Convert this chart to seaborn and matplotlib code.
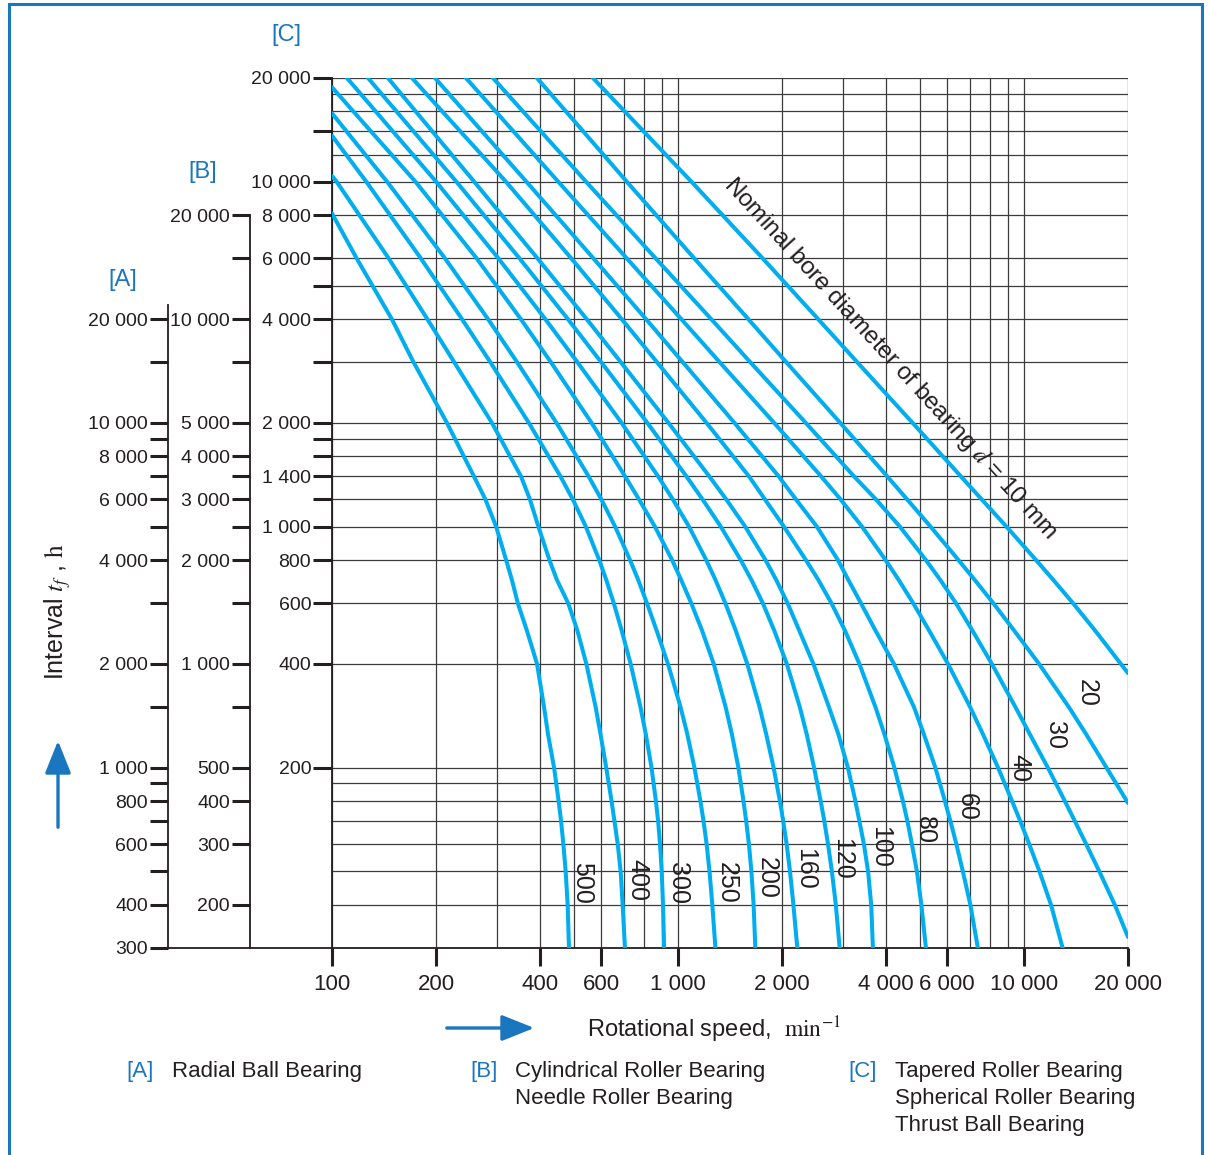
import numpy as np
import pandas as pd
import matplotlib
matplotlib.use("Agg")
import matplotlib.pyplot as plt
import seaborn as sns
from matplotlib.ticker import FixedLocator, FuncFormatter, NullFormatter, NullLocator
from matplotlib.patches import FancyArrowPatch, Rectangle

# ---------------- data (C-scale hours vs rotational speed, min^-1) -------
# hour levels at which each curve was read
hrs_levels = [10000, 6000, 4000, 3000, 2000, 1400, 1200, 1000, 800, 700, 600, 500, 400, 300,
              250, 200, 160, 140, 120, 100, 80, 60]

rpm_10 = [568, 1094.8, 1757.6, 2541.6, 3297.6, 4767.2, 6570.5, 7550.8, 8906.9, 10846, 12175,
          13869, 16061, 20000]
hrs_10 = [20000, 10000, 6000, 4000, 3000, 2000, 1400, 1200, 1000, 800, 700, 600, 500, 376]

rpm_20 = [391.3, 712.1, 1114.6, 1596.8, 2055.8, 2945.7, 4024.8, 4597.2, 5374.1, 6471.1, 7217.3,
          8158.4, 9368.8, 11065, 13482, 15141, 17338, 20000]
hrs_20 = [20000, 10000, 6000, 4000, 3000, 2000, 1400, 1200, 1000, 800, 700, 600, 500, 400, 300,
          250, 200, 158]

rpm_30 = [292.0, 542.9, 861.9, 1247.4, 1618.1, 2341.6, 3226.3, 3735.8, 4381.9, 5210.1, 5737.4,
          6361.4, 7098.5, 8082.0, 9449.6, 10406, 11733, 13137, 14040, 15141, 16528, 18323, 20000]
hrs_30 = [20000, 10000, 6000, 4000, 3000, 2000, 1400, 1200, 1000, 800, 700, 600, 500, 400, 300,
          250, 200, 160, 140, 120, 100, 80, 64.6]

rpm_40 = [243.9, 451.1, 711.2, 1022.2, 1319.8, 1896.9, 2592.0, 2951.4, 3405.6, 3983.4, 4349.9,
          4786.3, 5321.1, 6034.6, 6990.9, 7616.5, 8422.7, 9245.9, 9760.9, 10365, 11096, 11983,
          12945]
rpm_60 = [198.5, 365.0, 569.6, 808.2, 1032.5, 1456.5, 1954.4, 2193.0, 2521.9, 2900.7, 3110.6,
          3380.6, 3723.0, 4210.9, 4810.3, 5140.1, 5549.0, 5912.3, 6132.8, 6382.0, 6663.3, 7005.4,
          7363.0]
rpm_80 = [170.3, 318.5, 491.6, 687.6, 869.6, 1209.7, 1604.0, 1784.1, 2025.1, 2344.3, 2547.8,
          2777.8, 3039.0, 3346.6, 3723.0, 3953.0, 4224.5, 4470.5, 4606.4, 4746.3, 4907.4, 5056.5,
          5210.1]
rpm_100 = [145.1, 257.8, 392.6, 544.6, 683.5, 938.7, 1231.7, 1379.2, 1565.1, 1791.6, 1924.7,
           2074.2, 2241.7, 2463.9, 2731.8, 2910.2, 3099.8, 3258.4, 3346.6, 3448.3, 3545.7, 3620.0,
           3661.1]
rpm_120 = [127.1, 229.0, 348.3, 480.6, 599.8, 815.8, 1057.6, 1177.8, 1330.5, 1518.9, 1632.0,
           1759.2, 1898.2, 2064.1, 2250.5, 2356.8, 2475.3, 2586.7, 2649.3, 2715.4, 2786.9, 2860.3,
           2935.1]
rpm_160 = [110.5, 200.1, 302.6, 413.5, 512.0, 687.1, 876.0, 966.7, 1076.7, 1207.2, 1284.4,
           1370.9, 1469.0, 1586.6, 1721.8, 1799.9, 1890.7, 1971.6, 2015.3, 2061.7, 2108.6, 2156.7,
           2213.5]
rpm_200 = [100, 174.4, 261.8, 351.3, 429.2, 562.7, 703.1, 771.5, 858.0, 962.1, 1022.2, 1092.6,
           1174.0, 1269.1, 1373.5, 1432.3, 1495.6, 1547.1, 1575.1, 1604.0, 1630.8, 1655.0, 1673.8]
rpm_250 = [100, 144.4, 212.1, 282.4, 342.7, 445.6, 551.6, 600.6, 658.5, 727.1, 767.9, 813.6,
           867.7, 935.7, 1017.4, 1064.6, 1116.1, 1161.4, 1185.8, 1210.4, 1234.0, 1257.2, 1283.5]
rpm_300 = [100, 125.7, 180.6, 237.5, 286.8, 370.7, 457.3, 496.6, 541.8, 592.3, 620.9, 652.4,
           687.6, 730.0, 779.1, 807.6, 838.8, 863.7, 876.5, 887.6, 897.7, 905.5, 912.2]
rpm_400 = [100, 103.2, 145.8, 188.6, 225.5, 289.9, 351.7, 373.3, 395.1, 425.2, 447.1, 481.6,
           512.0, 543.6, 578.2, 597.4, 620.5, 642.9, 655.4, 669.9, 683.0, 692.2, 702.8]
rpm_500 = [100, 117.8, 148.9, 172.0, 214.9, 257.1, 277.6, 298.2, 318.7, 331.3, 344.4, 365.8,
           391.5, 410.1, 421.2, 438.5, 452.0, 459.4, 466.5, 473.7, 480.0, 484.2]

# hours where a curve enters at the left edge (100 min^-1)
start_hrs = {200: 18800, 250: 15800, 300: 13600, 400: 10400, 500: 8100}

bore_d = [10, 20, 30, 40, 60, 80, 100, 120, 160, 200, 250, 300, 400, 500]
curve_label_d = [20, 30, 40, 60, 80, 100, 120, 160, 200, 250, 300, 400, 500]

x_major = [100, 200, 400, 600, 1000, 2000, 4000, 6000, 10000, 20000]
x_grid = [100, 200, 300, 400, 500, 600, 700, 800, 900, 1000,
          2000, 3000, 4000, 5000, 6000, 7000, 8000, 9000, 10000, 20000]

c_ticks = [20000, 14000, 10000, 8000, 6000, 5000, 4000, 3000, 2000, 1800, 1600, 1400,
           1200, 1000, 800, 600, 400, 200]
c_labels = [20000, 10000, 8000, 6000, 4000, 2000, 1400, 1000, 800, 600, 400, 200]
c_grid = [20000, 18000, 16000, 14000, 12000, 10000, 8000, 6000, 5000, 4000, 3000, 2000,
          1800, 1600, 1400, 1200, 1000, 800, 600, 400, 200, 180, 160, 140, 120, 100, 80, 60]
b_ticks = [20000, 15000, 10000, 7500, 5000, 4000, 3500, 3000, 2500, 2000, 1500, 1000,
           750, 500, 400, 300, 200]
b_labels = [20000, 10000, 5000, 4000, 3000, 2000, 1000, 500, 400, 300, 200]
a_ticks = [20000, 15000, 10000, 9000, 8000, 7000, 6000, 5000, 4000, 3000, 2000, 1500,
           1000, 900, 800, 700, 600, 500, 400, 300]
a_labels = [20000, 10000, 8000, 6000, 4000, 2000, 1000, 800, 600, 400, 300]

# ---------------- styling --------------------------------------------------------------------
CURVE = "#00aeef"
DARK = "#231f20"
GRID = "#3c3c3c"
BLUE = "#1a76bf"

sns.set_theme(style="white")
plt.rcParams["font.family"] = ["Liberation Sans", "DejaVu Sans"]
plt.rcParams["mathtext.fontset"] = "stix"

W, H = 1208, 1155
fig = plt.figure(figsize=(W / 100, H / 100), dpi=100)
fig.patch.set_facecolor("white")
ax = fig.add_axes([332 / W, 1 - 948 / H, 796 / W, 870 / H])

pairs = {
    10: (rpm_10, hrs_10),
    20: (rpm_20, hrs_20),
    30: (rpm_30, hrs_30),
    40: (rpm_40, [20000] + hrs_levels),
    60: (rpm_60, [20000] + hrs_levels),
    80: (rpm_80, [20000] + hrs_levels),
    100: (rpm_100, [20000] + hrs_levels),
    120: (rpm_120, [20000] + hrs_levels),
    160: (rpm_160, [20000] + hrs_levels),
    200: (rpm_200, [start_hrs[200]] + hrs_levels),
    250: (rpm_250, [start_hrs[250]] + hrs_levels),
    300: (rpm_300, [start_hrs[300]] + hrs_levels),
    400: (rpm_400, [start_hrs[400]] + hrs_levels),
    500: (rpm_500, [start_hrs[500]] + hrs_levels[1:]),
}
df = pd.concat([pd.DataFrame({"rpm": r, "hours": h, "d": d})
                for d, (r, h) in pairs.items()], ignore_index=True)

sns.lineplot(data=df, x="rpm", y="hours", hue="d", palette={d: CURVE for d in bore_d},
             estimator=None, sort=False, legend=False, lw=2.9, ax=ax, zorder=3)

ax.set_xscale("log")
ax.set_yscale("log")
ax.set_xlim(100, 20000)
ax.set_ylim(60, 20000)
ax.set_xlabel("")
ax.set_ylabel("")
ax.set_facecolor("none")

for s in ("top", "right"):
    ax.spines[s].set_visible(False)
for s in ("left", "bottom"):
    ax.spines[s].set_color(DARK)
    ax.spines[s].set_linewidth(1.3)
ax.spines["bottom"].set_bounds(100 * 10 ** (-164 / 346), 20000)


def fmt(v):
    return f"{int(round(v)):,}".replace(",", " ")


# x axis
ax.xaxis.set_major_locator(FixedLocator(x_major))
ax.xaxis.set_major_formatter(FuncFormatter(lambda v, p: fmt(v)))
ax.xaxis.set_minor_locator(FixedLocator(x_grid))
ax.xaxis.set_minor_formatter(NullFormatter())
ax.xaxis.remove_overlapping_locs = False
ax.tick_params(axis="x", which="major", bottom=True, direction="out", length=13, width=2.2,
               color=DARK, labelsize=16, pad=6, labelcolor=DARK)
ax.tick_params(axis="x", which="minor", bottom=True, length=0)

# y axis (C scale)
ax.yaxis.set_major_locator(FixedLocator(c_ticks))
ax.yaxis.set_major_formatter(FuncFormatter(lambda v, p: fmt(v) if int(round(v)) in c_labels else ""))
ax.yaxis.set_minor_locator(FixedLocator(c_grid))
ax.yaxis.set_minor_formatter(NullFormatter())
ax.yaxis.remove_overlapping_locs = False
ax.tick_params(axis="y", which="major", left=True, direction="out", length=13.5, width=2.2,
               color=DARK, labelsize=14, pad=1.5, labelcolor=DARK)
ax.tick_params(axis="y", which="minor", left=True, length=0)

ax.grid(which="minor", color=GRID, lw=0.9)
ax.grid(which="major", visible=False)


def add_scale(loc, factor, ticks, labels, bounds):
    sec = ax.secondary_yaxis(loc, functions=(lambda c: c * factor, lambda a: a / factor))
    sec.yaxis.set_major_locator(FixedLocator(ticks))
    sec.yaxis.set_minor_locator(NullLocator())
    sec.yaxis.set_major_formatter(FuncFormatter(lambda v, p: fmt(v) if int(round(v)) in labels else ""))
    sec.tick_params(axis="y", which="major", left=True, direction="out", length=13, width=2.2,
                    color=DARK, labelsize=14, pad=1.5, labelcolor=DARK)
    sec.spines["left"].set_color(DARK)
    sec.spines["left"].set_linewidth(1.3)
    sec.spines["left"].set_bounds(*bounds)
    return sec


add_scale(-0.103, 2.5, b_ticks, b_labels, (150, 20000))
add_scale(-0.206, 5.0, a_ticks, a_labels, (300, 22000))

# curve labels (layout positions in data coordinates)
label_pos = {500: (528, 92.6), 400: (761, 94.4), 300: (1000, 92.6), 250: (1386, 92.6),
             200: (1808, 95.7), 160: (2328, 102), 120: (2979, 109), 100: (3836, 118),
             80: (5175, 132), 60: (6844, 154), 40: (9737, 200), 30: (12290, 249),
             20: (15210, 329)}
for d in curve_label_d:
    x, y = label_pos[d]
    ax.text(x, y, str(d), rotation=-90, ha="center", va="center", fontsize=18, color=DARK,
            zorder=4)
ax.text(4120, 3080, r"Nominal bore diameter of bearing $d$ = 10 mm", rotation=-47.5,
        rotation_mode="anchor", ha="center", va="center", fontsize=17.5, color=DARK, zorder=4)

# scale tags
for txt, (px, py) in {"[A]": (123, 280), "[B]": (203, 172), "[C]": (286, 35)}.items():
    fig.text(px / W, 1 - py / H, txt, ha="center", va="center", fontsize=17, color=BLUE)

# axis titles and arrows
fig.text(58 / W, 1 - 612 / H, r"Interval $t_f$ , $\mathrm{h}$", rotation=90,
         ha="center", va="center", fontsize=18, color=DARK)
fig.add_artist(FancyArrowPatch((58 / W, 1 - 830 / H), (58 / W, 1 - 738 / H),
                               transform=fig.transFigure,
                               arrowstyle="-|>,head_length=1.0,head_width=0.4",
                               mutation_scale=20, lw=2.4, color=BLUE))
fig.text(587 / W, 1 - 1030 / H, r"Rotational speed,  $\mathrm{min}^{-1}$", ha="left",
         va="center", fontsize=17, color=DARK)
fig.add_artist(FancyArrowPatch((444 / W, 1 - 1028 / H), (537 / W, 1 - 1028 / H),
                               transform=fig.transFigure,
                               arrowstyle="-|>,head_length=1.0,head_width=0.4",
                               mutation_scale=20, lw=2.4, color=BLUE))

# bottom key
key = [("[A]", 126, ["Radial Ball Bearing"], 172),
       ("[B]", 470, ["Cylindrical Roller Bearing", "Needle Roller Bearing"], 515),
       ("[C]", 848, ["Tapered Roller Bearing", "Spherical Roller Bearing", "Thrust Ball Bearing"], 895)]
for tag, tx, lines, lx in key:
    fig.text(tx / W, 1 - 1072 / H, tag, ha="left", va="center", fontsize=16, color=BLUE)
    for i, line in enumerate(lines):
        fig.text(lx / W, 1 - (1072 + 26.5 * i) / H, line, ha="left", va="center",
                 fontsize=16, color=DARK)

# frame
fig.add_artist(Rectangle((9 / W, -0.05), (1202 - 9) / W, 1 - 4 / H + 0.05,
                         transform=fig.transFigure, fill=False, ec=BLUE, lw=2.2))

fig.savefig("out.png", dpi=100, facecolor="white")
